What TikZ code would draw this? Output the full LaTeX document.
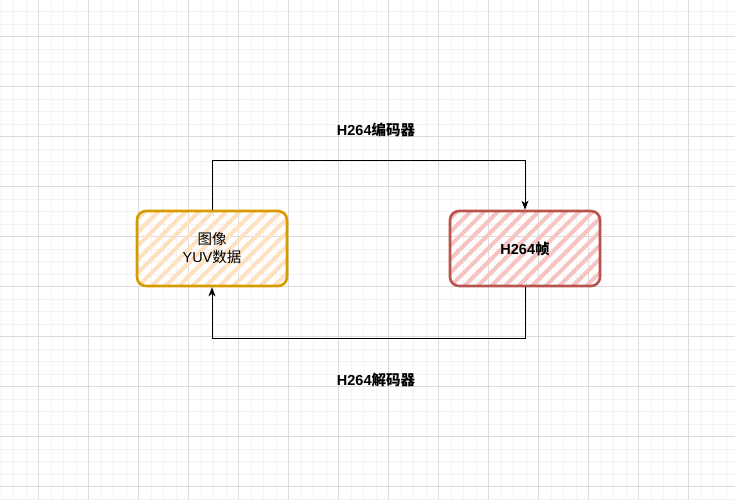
\documentclass[tikz,border=0pt]{standalone}
\usepackage{fontspec}
\setmainfont{Liberation Sans}
\newfontfamily\cjk{Noto Sans CJK SC}
\usetikzlibrary{arrows.meta,patterns.meta}

\tikzdeclarepattern{name=stripes, type=uncolored,
  bottom left={(-1pt,-1pt)}, top right={(10.6pt,10.6pt)},
  tile size={(9.6pt,9.6pt)}, tile transformation={rotate=45},
  code={\draw[line width=4pt] (-1pt,4.8pt) -- (10.6pt,4.8pt);}}

\definecolor{gridminor}{HTML}{F3F3F3}
\definecolor{gridmajor}{HTML}{DCDCDC}
\definecolor{imgfill}{HTML}{FFE0C0}
\definecolor{imgline}{HTML}{D79B00}
\definecolor{frmfill}{HTML}{F6C4C2}
\definecolor{frmline}{HTML}{B85450}

\tikzset{
  block/.style={minimum width=150pt, minimum height=75pt, rounded corners=9pt,
    line width=2.6pt, align=center, font=\fontsize{14.5}{18}\selectfont},
  link/.style={-{Stealth[length=9pt,width=7pt,inset=2.5pt]}, line width=0.9pt},
  caption/.style={font=\fontsize{14.5}{17}\selectfont\bfseries}
}

\begin{document}
\begin{tikzpicture}[x=1pt,y=-1pt]
\useasboundingbox (0,0) rectangle (735,499);
% background grid
\foreach \k in {0,...,58}
  \draw[gridminor,line width=0.8pt] (1.2+12.5*\k,0) -- (1.2+12.5*\k,499);
\foreach \k in {0,...,40}
  \draw[gridminor,line width=0.8pt] (0,-1+12.5*\k) -- (735,-1+12.5*\k);
\foreach \k in {0,...,14}
  \draw[gridmajor,line width=0.8pt] (38.7+50*\k,0) -- (38.7+50*\k,499);
\foreach \k in {0,...,9}
  \draw[gridmajor,line width=0.8pt] (0,36.5+50*\k) -- (735,36.5+50*\k);

\node[block, draw=imgline, pattern={stripes}, pattern color=imgfill] (img) at (212,248.5)
  {{\cjk 图像}\\YUV{\cjk 数据}};
\node[block, draw=frmline, pattern={stripes}, pattern color=frmfill] (frame) at (525,248.5)
  {\bfseries H264{\cjk\bfseries 帧}};

\draw[link] (img.north) -- ++(0,-49) -| (frame.north);
\draw[link] (frame.south) -- ++(0,51) -| (img.south);

\node[caption] (enc) at (376,130) {H264{\cjk\bfseries 编码器}};
\node[caption] (dec) at (376,380) {H264{\cjk\bfseries 解码器}};
\end{tikzpicture}
\end{document}
